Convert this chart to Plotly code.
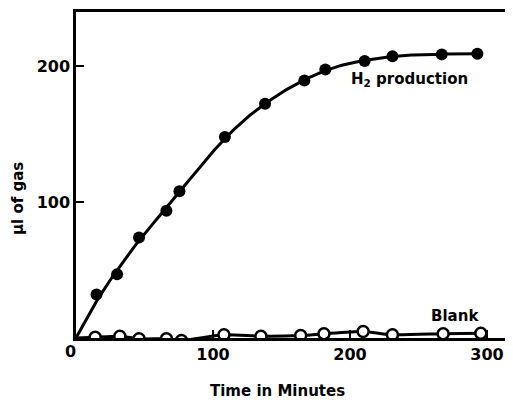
import numpy as np
import plotly.graph_objects as go

# H2 production (filled circles)
h2_time = [15, 30, 46, 66, 75.5, 108.7, 138, 166.7, 182, 210.7, 231, 267, 293]
h2_gas = [32, 47, 74, 93.7, 108, 148, 172.5, 189.6, 197.7, 204, 207.5, 208.8, 209.3]

# Blank (open circles)
blank_time = [14, 32, 46, 66, 77, 108, 135, 164, 181, 209.6, 231, 268, 295.5]
blank_gas = [0.6, 1.3, -0.6, -0.6, -1.8, 2.4, 1.3, 1.8, 3.1, 4.8, 2.4, 3.1, 3.5]

x_ticks = [100, 200, 300]
y_ticks = [100, 200]


def smooth_curve(xs, ys, lam=1500.0):
    """Penalised least-squares (Whittaker) smooth curve through the origin."""
    grid = np.arange(0, int(round(max(xs))) + 1, dtype=float)
    n = len(grid)
    wts = np.zeros(n)
    target = np.zeros(n)
    wts[0] = 50.0  # curve starts at the origin
    for x, y in zip(xs, ys):
        i = int(round(x))
        wts[i] += 1.0
        target[i] = y
    D = np.diff(np.eye(n), 2, axis=0)
    A = np.diag(wts) + lam * D.T @ D
    z = np.linalg.solve(A, wts * target)
    return grid, z


curve_x, curve_y = smooth_curve(h2_time, h2_gas)

blank_line_x = [0] + blank_time
blank_line_y = [0] + blank_gas

FONT = "DejaVu Sans"

fig = go.Figure()
fig.add_trace(go.Scatter(x=curve_x, y=curve_y, mode="lines",
                         line=dict(color="black", width=3),
                         hoverinfo="skip", showlegend=False))
fig.add_trace(go.Scatter(x=blank_line_x, y=blank_line_y, mode="lines",
                         line=dict(color="black", width=3, shape="spline", smoothing=0.6),
                         hoverinfo="skip", showlegend=False))
fig.add_trace(go.Scatter(x=h2_time, y=h2_gas, mode="markers",
                         marker=dict(symbol="circle", size=12, color="black"),
                         showlegend=False))
fig.add_trace(go.Scatter(x=blank_time, y=blank_gas, mode="markers",
                         marker=dict(symbol="circle", size=11, color="white",
                                     line=dict(color="black", width=2.5)),
                         showlegend=False))

fig.add_annotation(x=199, y=190, text="<b>H<sub>2</sub> production</b>", showarrow=False,
                   xanchor="left", yanchor="middle",
                   font=dict(family=FONT, size=15, color="black"))
fig.add_annotation(x=277, y=16, text="<b>Blank</b>", showarrow=False,
                   xanchor="center", yanchor="middle",
                   font=dict(family=FONT, size=15, color="black"))
fig.add_annotation(x=0, y=0, text="<b>0</b>", showarrow=False, xanchor="center", yanchor="middle",
                   xshift=-6, yshift=-13,
                   font=dict(family=FONT, size=16, color="black"))
fig.add_annotation(xref="paper", yref="paper", x=0.46, y=-0.162, text="<b>Time in Minutes</b>",
                   showarrow=False, xanchor="center", yanchor="middle",
                   font=dict(family=FONT, size=15, color="black"))
fig.add_annotation(xref="paper", yref="paper", x=-0.133, y=0.429, text="<b>μl of gas</b>",
                   showarrow=False, textangle=-90, xanchor="center", yanchor="middle",
                   font=dict(family=FONT, size=15, color="black"))

fig.update_xaxes(range=[0, 319], tickvals=x_ticks, ticktext=[f"<b>{v}</b>" for v in x_ticks],
                 ticks="inside", ticklen=8, tickwidth=2,
                 tickcolor="black", showline=True, linewidth=2.5, linecolor="black",
                 mirror=True, showgrid=False, zeroline=False,
                 tickfont=dict(family=FONT, size=16, color="black"))
fig.update_yaxes(range=[0, 240], tickvals=y_ticks, ticktext=[f"<b>{v}</b>" for v in y_ticks],
                 ticks="inside", ticklen=8, tickwidth=2,
                 tickcolor="black", showline=True, linewidth=2.5, linecolor="black",
                 showgrid=False, zeroline=False,
                 tickfont=dict(family=FONT, size=16, color="black"))

fig.update_layout(width=505, height=392, margin=dict(l=68, r=0, t=4, b=62, autoexpand=False),
                  plot_bgcolor="white", paper_bgcolor="white")

fig.write_html("out.html")
